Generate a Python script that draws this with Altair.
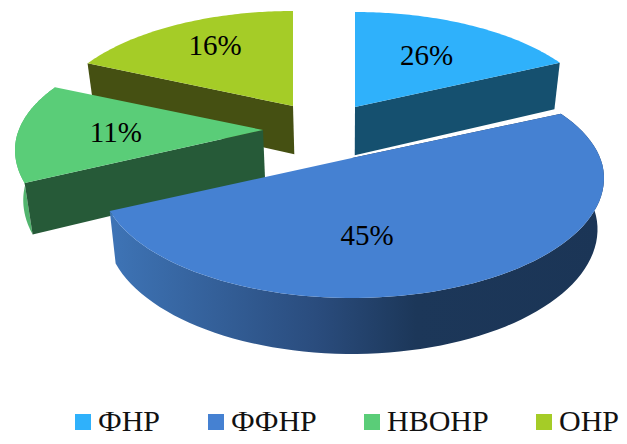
import numpy as np
import altair as alt

categories = ["ФНР", "ФФНР", "НВОНР", "ОНР"]
values = [26, 45, 11, 16]
labels = ["26%", "45%", "11%", "16%"]
top_colors = ["#2fb1fb", "#4581d2", "#5acd78", "#a5cc27"]
wall_colors = ["#15506f", "#1b3556", "#265a38", "#455012"]
rim_colors = ["#1d6c97", "#1b3556", "#52b56e", "#7f9e1e"]

# Each slice is displaced from the pie's centre (page pixels, the "explosion").
apex_x = [355, 352, 263, 293]
apex_y = [107, 158, 130, 106]
radius_x = [247, 252, 248, 245]
# Screen-space warp of the tilted pie: share of the total -> angle on the ellipse.
warp_share = [0.0, 0.2653, 0.7245, 0.8367, 1.0]
warp_angle = [0.0, 56.0, 254.0, 303.0, 360.0]
label_r = [0.66, 0.49, 0.61, 0.74]
label_turn = [-2, 18, 5, 3]
RY_BACK, RY_FRONT, LIFT = 115.0, 120.0, 20.0
VX = 345.0
M = 8.0

shares = np.cumsum([0] + values) / sum(values)
angles = np.interp(shares, warp_share, warp_angle)


def ellipse(i, t):
    c = np.cos(t)
    ry = np.where(c > 0, RY_BACK, RY_FRONT)
    return apex_x[i] + radius_x[i] * np.sin(t), apex_y[i] + LIFT - ry * c


def rim(i, a0, a1, n=80):
    return ellipse(i, np.radians(np.linspace(a0, a1, n)))


def drop(x, y):
    d = 44 + 0.04 * y
    return VX + (x - VX) * 0.975, y + d


def feature(xs, ys, **props):
    ring = [[float(a) - M, float(b) - M] for a, b in zip(xs, ys)]
    ring.append(ring[0])
    return {"type": "Feature", "geometry": {"type": "Polygon", "coordinates": [ring]},
            "properties": props}


PROJ = alt.Projection(type="identity", scale=1, translate=[0, 0])


def shape(feats, **mark):
    return alt.Chart(alt.Data(values=feats)).mark_geoshape(strokeWidth=0, **mark).project(**PROJ.to_dict())


def wall_face(i, px, py):
    xb, yb = drop(np.array([apex_x[i], px]), np.array([apex_y[i], py]))
    return feature([apex_x[i], px, xb[1], xb[0]], [apex_y[i], py, yb[1], yb[0]], name=categories[i])


def rim_face(i, a0, a1):
    x, y = rim(i, a0, a1)
    xb, yb = drop(x, y)
    return feature(np.r_[x, xb[::-1]], np.r_[y, yb[::-1]], name=categories[i])


def top_face(i):
    x, y = rim(i, angles[i], angles[i + 1])
    return feature(np.r_[apex_x[i], x], np.r_[apex_y[i], y], name=categories[i])


color = alt.Color(
    "properties.name:N",
    scale=alt.Scale(domain=categories, range=top_colors),
    legend=alt.Legend(
        title=None, orient="none", legendX=60, legendY=399, columns=4, columnPadding=40,
        symbolType="square", symbolSize=256, symbolStrokeWidth=0, labelOffset=0,
        labelFont="Liberation Serif", labelFontSize=30, labelColor="#111111", labelLimit=200,
        symbolOpacity=1,
    ),
)

layers = []
blue_grad = alt.Gradient(
    gradient="linear", x1=0, x2=1, y1=0, y2=0,
    stops=[alt.GradientStop(color="#3e74b6", offset=0),
           alt.GradientStop(color="#2a4c7d", offset=0.42),
           alt.GradientStop(color="#1c3759", offset=0.62),
           alt.GradientStop(color="#1b3556", offset=1)],
)
for i in [3, 0, 2, 1]:
    a0, a1 = angles[i], angles[i + 1]
    edge = a1 if i == 0 else a0
    x, y = rim(i, edge, edge, 1)
    if i == 1:
        layers.append(shape([rim_face(i, a0, a1)], fill=blue_grad))
    elif i == 2:
        layers.append(shape([rim_face(i, a0, a1)], fill=rim_colors[i]))
    layers.append(shape([wall_face(i, x[0], y[0])], fill=wall_colors[i]))
    layers.append(shape([top_face(i)]).encode(color=color))

text_rows = []
for i in range(4):
    t = np.radians((angles[i] + angles[i + 1]) / 2 + label_turn[i])
    text_rows.append({
        "lon": float(apex_x[i] + radius_x[i] * label_r[i] * np.sin(t) - M),
        "lat": float(apex_y[i] + LIFT - RY_FRONT * label_r[i] * np.cos(t) - M),
        "label": labels[i],
    })
text = alt.Chart(alt.Data(values=text_rows)).mark_text(
    font="Liberation Serif", fontSize=29, color="#000000", baseline="middle", align="center"
).encode(longitude="lon:Q", latitude="lat:Q", text="label:N").project(**PROJ.to_dict())

chart = alt.layer(*layers, text).properties(
    width=611, height=428, padding=0, autosize=alt.AutoSizeParams(type="none"), background="#ffffff"
).configure_view(stroke=None)

chart.save("out.html", embed_options={"renderer": "svg", "actions": False})
